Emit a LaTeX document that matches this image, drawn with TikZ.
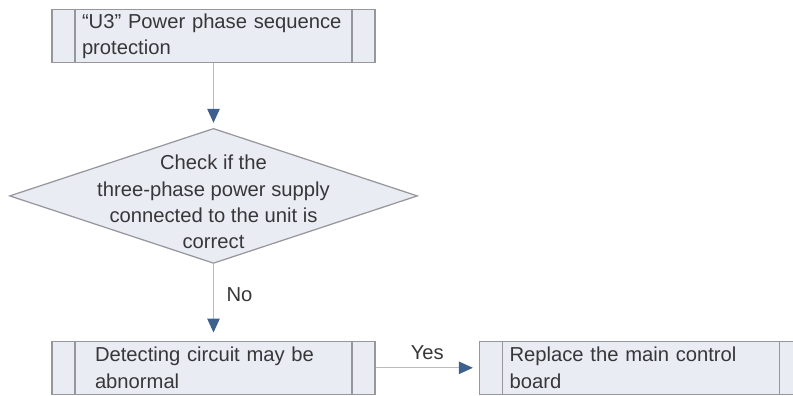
\documentclass[tikz,border=0pt]{standalone}
\usepackage{fontspec}
\setmainfont{Liberation Sans}
\usepackage{xcolor}
\usetikzlibrary{shapes.geometric, arrows.meta, positioning}

\definecolor{boxfill}{RGB}{233,236,243}
\definecolor{boxline}{RGB}{150,150,156}
\definecolor{flowline}{RGB}{185,186,194}
\definecolor{tipblue}{RGB}{62,96,140}
\definecolor{txt}{RGB}{55,55,58}

\begin{document}
\begin{tikzpicture}[
    font=\fontsize{11.5}{15}\selectfont\color{txt},
    process/.style={rectangle, draw=boxline, fill=boxfill, line width=0.9pt, minimum width=6.46cm, minimum height=1.06cm, text width=5.26cm, align=left, inner xsep=0.6cm, inner ysep=2pt,
        path picture={\draw[boxline, line width=0.7pt] ([xshift=0.46cm]path picture bounding box.north west) -- ([xshift=0.46cm]path picture bounding box.south west);
                      \draw[boxline, line width=0.7pt] ([xshift=-0.46cm]path picture bounding box.north east) -- ([xshift=-0.46cm]path picture bounding box.south east);}},
    decision/.style={diamond, draw=boxline, fill=boxfill, line width=0.7pt, minimum width=8.16cm, minimum height=2.7cm, inner sep=0pt},
    arrow/.style={-{Triangle[length=0.28cm, width=0.25cm, color=tipblue]}, draw=flowline, line width=0.6pt},
    lbl/.style={font=\fontsize{11.5}{14}\selectfont\color{txt}, inner sep=2pt}
]
\useasboundingbox (0,0) rectangle (15.86,-7.92);

% Main column
\node[process] (alarm) at (4.27,-0.72) {“U3” Power phase sequence\\protection};
\node[decision, below=1.29cm of alarm] (check) {\smash{\raisebox{-1.25ex}{\makebox[0pt]{\begin{tabular}{@{}c@{}}Check if the\\three-phase power supply\\connected to the unit is\\correct\end{tabular}}}}};
\node[process, below=1.53cm of check, text width=4.74cm, inner xsep=0.86cm] (fault) {Detecting circuit may be\\abnormal};

% Right side
\node[process, right=2.06cm of fault] (replace) {Replace the main control\\board};

% Connections
\draw[arrow, shorten >=0.1cm] (alarm) -- (check);
\draw[arrow, shorten >=0.16cm] (check) -- node[lbl, right, pos=0.4, xshift=0.18cm] {No} (fault);
\draw[arrow, shorten >=0.12cm] (fault) -- node[lbl, above, yshift=0.08cm] {Yes} (replace);

\end{tikzpicture}
\end{document}
